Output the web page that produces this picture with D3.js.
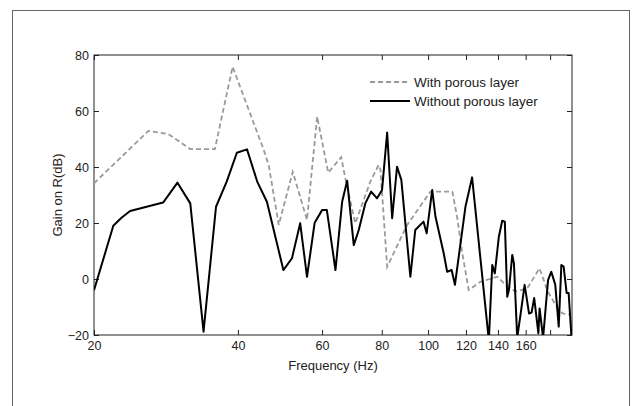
<!DOCTYPE html>
<html>
<head>
<meta charset="utf-8">
<script src="https://cdn.jsdelivr.net/npm/d3@7"></script>
<style>
  body { margin: 0; background: #fff; }
  svg { display: block; font-family: "Liberation Sans", Arial, sans-serif; }
</style>
</head>
<body>
<div id="chart"></div>
<script>
// frequency (Hz) / gain (dB)
var freqWithout = [20, 21.95, 22.8, 23.8, 27.9, 29.9, 31.8, 33.9, 36.0, 37.9, 39.8, 41.8, 43.9, 46.0, 49.8, 51.9, 54.0, 55.8, 57.9, 60.0,
	61.4, 64.0, 66.1, 67.7, 69.9, 71.6, 73.9, 76.0, 78.2, 80.1, 82.1, 84.1, 86.1, 87.9, 91.8, 94.0, 97.8, 99.3, 102.0, 103.6,
	107.8, 109.6, 112.0, 113.8, 119.7, 123.6, 134.0, 136.2, 137.9, 140.6, 142.9, 144.7, 146.4, 147.6, 150.0, 151.2, 153.6, 156.2, 159.2, 162.6,
	164.6, 166.7, 170.1, 171.1, 174.0, 178.2, 181.0, 184.5, 187.6, 190.0, 192.1, 194.9, 196.8, 199.7];
var gainWithout = [-4, 19.0, 21.8, 24.3, 27.3, 34.4, 27.0, -18.8, 25.8, 34.8, 45.1, 46.3, 34.8, 27.6, 3.2, 7.4, 19.9, 0.8, 20.1, 24.6,
	24.6, 3.2, 27.6, 35.1, 12.1, 17.5, 27.0, 31.2, 28.8, 31.8, 52.3, 21.7, 40.1, 35.4, 0.8, 17.5, 20.5, 16.3, 31.8, 22.3,
	9.2, 2.6, 3.2, -2.1, 25.8, 36.3, -22, 5.0, 2.0, 15.1, 20.8, 20.5, -6.3, -3.9, 8.6, 5.6, -21, -12.3, -2.1, -12.3,
	-12, -6.8, -19.4, -10.5, -21, -0.4, 2.6, -2, -17, 5, 4.4, -5, -5, -22];

var freqWith = [20, 26.0, 28.6, 31.8, 35.8, 39.0, 45.3, 46.4, 48.7, 52.1, 55.8, 58.6, 61.8, 65.8, 67.1, 70.4, 75.7, 78.8, 79.5, 82.1,
	90.4, 101.1, 112.4, 115.1, 117.9, 121.6, 128.7, 139.6, 145.3, 152.4, 161.2, 171.0, 178.0, 184.8, 191.0, 200];
var gainWith = [34.2, 52.9, 51.8, 46.4, 46.4, 75.8, 46.1, 40.7, 19.3, 38.3, 21.1, 58.0, 38.0, 43.5, 36.0, 19.9, 34.8, 40.7, 39.0, 4.4,
	19.3, 31.2, 31.2, 21.7, 9.2, -3.9, -1.0, 0.8, -2.1, -4.5, -3.3, 3.8, -4.5, -9.3, -12.3, -12.9];

var xTicks = [20, 40, 60, 80, 100, 120, 140, 160, 180];
var xTickLabels = ["20", "40", "60", "80", "100", "120", "140", "160", ""];
var yTicks = [-20, 0, 20, 40, 60, 80];
var seriesNames = ["With porous layer", "Without porous layer"];

var W = 636, H = 406;
var plotLeft = 94, plotRight = 572, plotTop = 55, plotBottom = 335;

var svg = d3.select("#chart").append("svg")
	.attr("width", W)
	.attr("height", H);

// outer frame of the figure
svg.append("rect")
	.attr("x", 12.5).attr("y", 10.5)
	.attr("width", 617).attr("height", 420)
	.attr("fill", "#fff")
	.attr("stroke", "#666")
	.attr("stroke-width", 1);

var x = d3.scaleLog().domain([20, 200]).range([plotLeft, plotRight]);
var y = d3.scaleLinear().domain([-20, 80]).range([plotBottom, plotTop]);

svg.append("clipPath").attr("id", "plotclip")
	.append("rect")
	.attr("x", plotLeft).attr("y", plotTop)
	.attr("width", plotRight - plotLeft).attr("height", plotBottom - plotTop);

function styleAxis(g) {
	g.select(".domain").remove();
	g.selectAll(".tick line").attr("stroke", "#222");
	g.selectAll(".tick text")
		.attr("fill", "#222")
		.style("font-size", "12.5px")
		.style("font-family", "'Liberation Sans', Arial, sans-serif");
}

svg.append("g")
	.attr("transform", "translate(0," + plotBottom + ")")
	.call(d3.axisBottom(x).tickValues(xTicks)
		.tickFormat(function(d, i) { return xTickLabels[i]; })
		.tickSizeInner(-5).tickSizeOuter(0).tickPadding(6))
	.call(styleAxis);

svg.append("g")
	.attr("transform", "translate(0," + plotTop + ")")
	.call(d3.axisTop(x).tickValues(xTicks).tickFormat("")
		.tickSizeInner(-5).tickSizeOuter(0))
	.call(styleAxis);

svg.append("g")
	.attr("transform", "translate(" + plotLeft + ",0)")
	.call(d3.axisLeft(y).tickValues(yTicks).tickFormat(d3.format("d"))
		.tickSizeInner(-5).tickSizeOuter(0).tickPadding(5))
	.call(styleAxis);

svg.append("g")
	.attr("transform", "translate(" + plotRight + ",0)")
	.call(d3.axisRight(y).tickValues(yTicks).tickFormat("")
		.tickSizeInner(-5).tickSizeOuter(0))
	.call(styleAxis);

svg.append("rect")
	.attr("x", plotLeft).attr("y", plotTop)
	.attr("width", plotRight - plotLeft).attr("height", plotBottom - plotTop)
	.attr("fill", "none")
	.attr("stroke", "#222")
	.attr("stroke-width", 1);

var line = d3.line()
	.x(function(d) { return x(d[0]); })
	.y(function(d) { return y(d[1]); });

var plot = svg.append("g").attr("clip-path", "url(#plotclip)");

plot.append("path")
	.datum(d3.zip(freqWith, gainWith))
	.attr("d", line)
	.attr("fill", "none")
	.attr("stroke", "#9a9a9a")
	.attr("stroke-width", 1.8)
	.attr("stroke-dasharray", "5,3");

plot.append("path")
	.datum(d3.zip(freqWithout, gainWithout))
	.attr("d", line)
	.attr("fill", "none")
	.attr("stroke", "#000")
	.attr("stroke-width", 2)
	.attr("stroke-linejoin", "round");

// legend
var legend = svg.append("g").attr("transform", "translate(370,0)");
legend.append("line")
	.attr("x1", 0).attr("x2", 40).attr("y1", 82).attr("y2", 82)
	.attr("stroke", "#9a9a9a").attr("stroke-width", 1.8).attr("stroke-dasharray", "5,3");
legend.append("line")
	.attr("x1", 0).attr("x2", 40).attr("y1", 101).attr("y2", 101)
	.attr("stroke", "#000").attr("stroke-width", 2);
legend.selectAll("text")
	.data(seriesNames)
	.enter().append("text")
	.attr("x", 44)
	.attr("y", function(d, i) { return 82 + i * 19; })
	.attr("dy", "0.35em")
	.attr("fill", "#222")
	.style("font-size", "13.5px")
	.text(function(d) { return d; });

// axis titles
svg.append("text")
	.attr("x", (plotLeft + plotRight) / 2).attr("y", 365)
	.attr("dy", "0.35em")
	.attr("text-anchor", "middle")
	.attr("fill", "#222")
	.style("font-size", "13px")
	.text("Frequency (Hz)");

svg.append("text")
	.attr("transform", "translate(57," + ((plotTop + plotBottom) / 2) + ") rotate(-90)")
	.attr("dy", "0.35em")
	.attr("text-anchor", "middle")
	.attr("fill", "#2a2218")
	.style("font-size", "13px")
	.text("Gain on R(dB)");
</script>
</body>
</html>
